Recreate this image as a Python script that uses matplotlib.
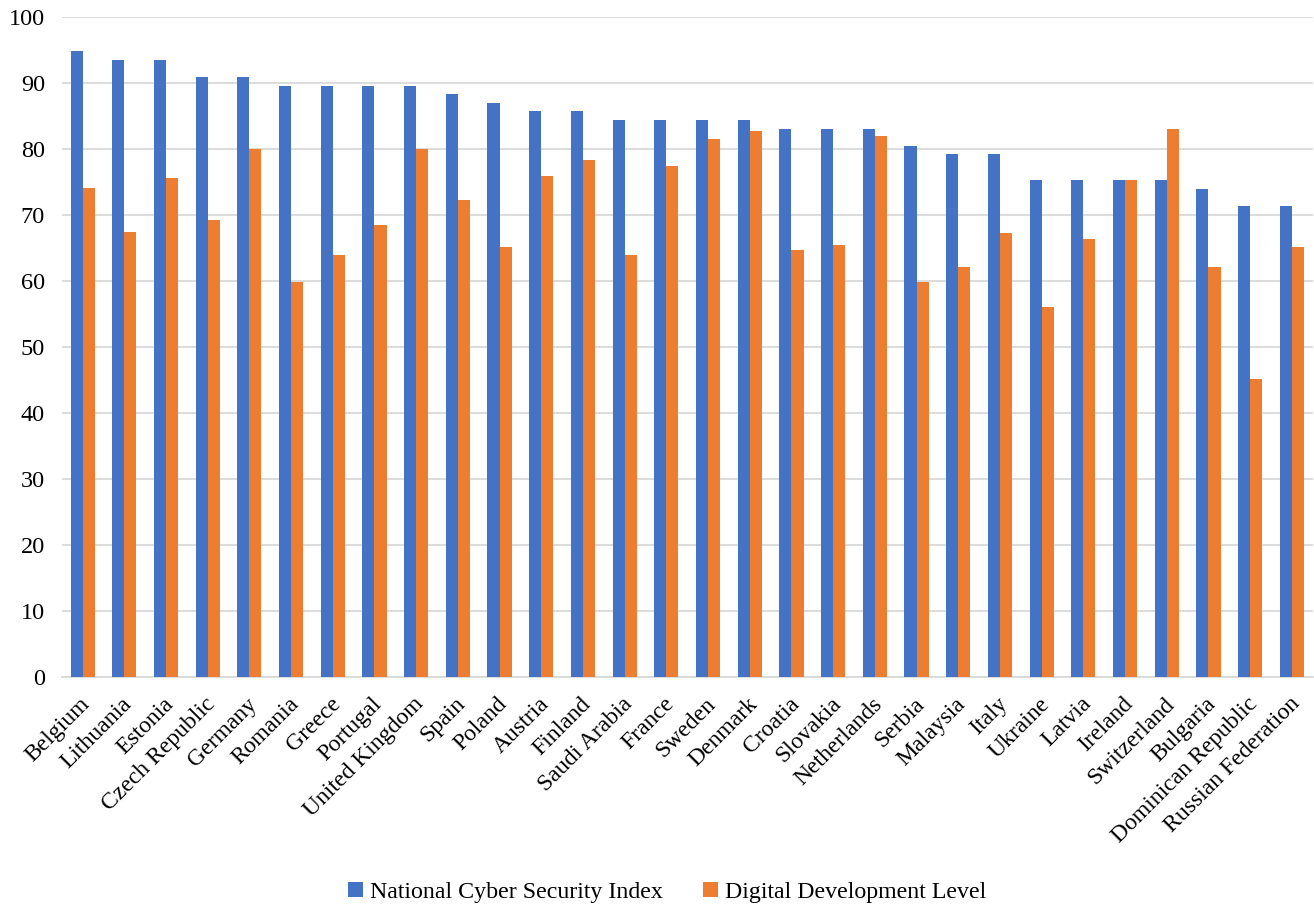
import numpy as np
import matplotlib
matplotlib.use('Agg')
from matplotlib import pyplot as plt
from matplotlib.transforms import ScaledTranslation

countries = ['Belgium', 'Lithuania', 'Estonia', 'Czech Republic', 'Germany', 'Romania',
             'Greece', 'Portugal', 'United Kingdom', 'Spain', 'Poland', 'Austria',
             'Finland', 'Saudi Arabia', 'France', 'Sweden', 'Denmark', 'Croatia',
             'Slovakia', 'Netherlands', 'Serbia', 'Malaysia', 'Italy', 'Ukraine',
             'Latvia', 'Ireland', 'Switzerland', 'Bulgaria', 'Dominican Republic',
             'Russian Federation']

ncsi = [94.81, 93.51, 93.51, 90.91, 90.91, 89.61, 89.61, 89.61, 89.61, 88.31,
        87.01, 85.71, 85.71, 84.42, 84.42, 84.42, 84.42, 83.12, 83.12, 83.12,
        80.52, 79.22, 79.22, 75.32, 75.32, 75.32, 75.32, 74.03, 71.43, 71.43]

ddl = [74.1, 67.4, 75.6, 69.2, 80.0, 59.9, 64.0, 68.5, 80.0, 72.3,
       65.1, 75.9, 78.4, 63.9, 77.4, 81.6, 82.8, 64.7, 65.5, 82.0,
       59.9, 62.2, 67.3, 56.0, 66.3, 75.3, 83.0, 62.1, 45.2, 65.2]

BLUE = '#4472C4'
ORANGE = '#ED7D31'
GRID = '#D9D9D9'

plt.rcParams['font.family'] = ['Liberation Serif', 'DejaVu Serif']

fig = plt.figure(figsize=(13.14, 9.06), dpi=100)
ax = fig.add_axes([0.047, 0.253, 0.952, 0.728])

x = np.arange(len(countries))
w = 0.29
ax.bar(x - w / 2, ncsi, w, color=BLUE, label='National Cyber Security Index', zorder=3)
ax.bar(x + w / 2, ddl, w, color=ORANGE, label='Digital Development Level', zorder=3)

ax.set_xlim(-0.5, len(countries) - 0.5)
ax.set_ylim(0, 100)
ax.set_yticks(range(0, 101, 10))
ax.yaxis.grid(True, color=GRID, linewidth=1.3, zorder=0)
for s in ['top', 'right', 'left']:
    ax.spines[s].set_visible(False)
ax.spines['bottom'].set_color(GRID)
ax.spines['bottom'].set_linewidth(1.3)
ax.tick_params(axis='both', length=0)
ax.tick_params(axis='y', pad=12, labelsize=17.5)
ax.tick_params(axis='x', pad=12, labelsize=17)
ax.set_xticks(x)
ax.set_xticklabels(countries, rotation=45, ha='right', rotation_mode='anchor')
# nudge the slanted labels a little to the left
shift = ScaledTranslation(-0.03, 0, fig.dpi_scale_trans)
for lab in ax.get_xticklabels():
    lab.set_transform(lab.get_transform() + shift)

ax.legend(loc='lower center', bbox_to_anchor=(0.484, -0.375), ncol=2, frameon=False,
          fontsize=17.2, handlelength=0.6, handleheight=0.6, columnspacing=1.7,
          handletextpad=0.3)

fig.savefig('out.png', dpi=100)
